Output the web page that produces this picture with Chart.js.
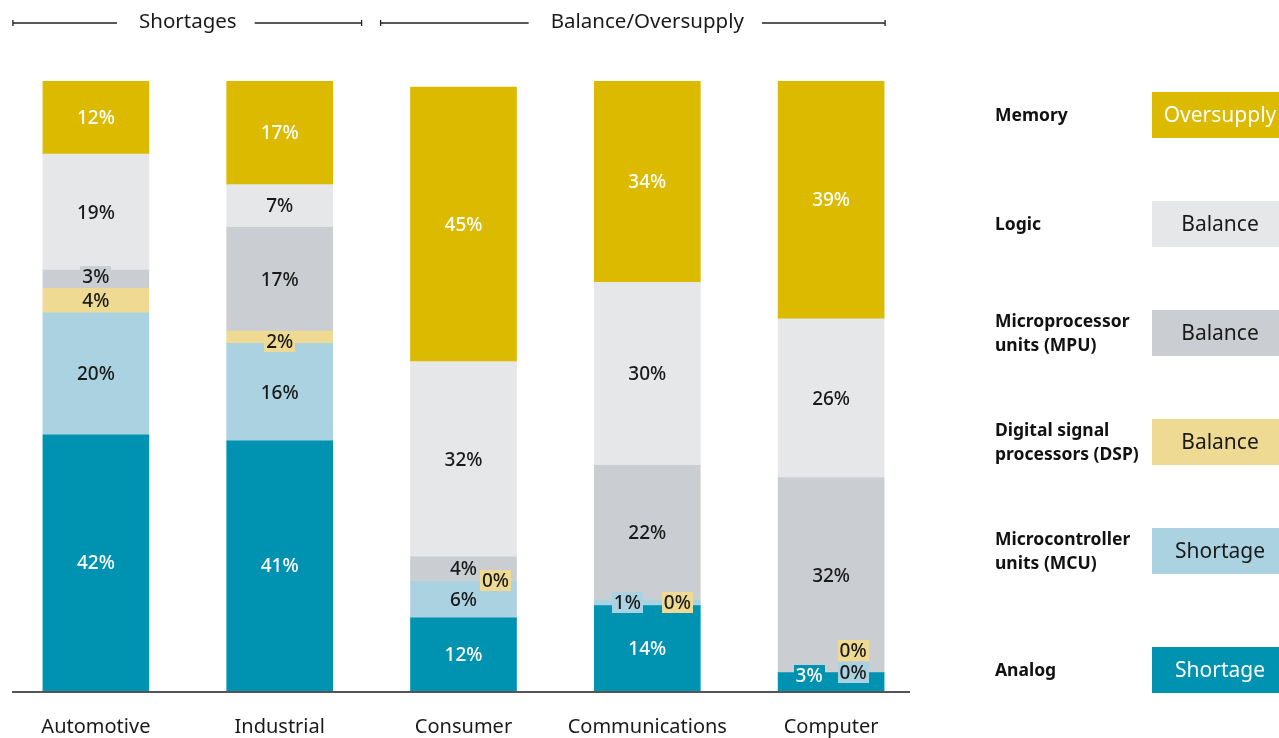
<!DOCTYPE html>
<html>
<head>
<meta charset="utf-8">
<title>Chip supply by end market</title>
<script src="https://cdn.jsdelivr.net/npm/chart.js@4.4.1/dist/chart.umd.min.js"></script>
<style>
  html, body { margin: 0; padding: 0; background: #fff; }
  #wrap { position: relative; width: 1279px; height: 738px; }
</style>
</head>
<body>
<div id="wrap"><canvas id="chipChart"></canvas></div>
<script>
const segments = ['Automotive', 'Industrial', 'Consumer', 'Communications', 'Computer'];

// share of each chip type in a segment's demand, %
const analog = [42, 41, 12, 14, 3];
const mcu    = [20, 16, 6, 1, 0];
const dsp    = [4, 2, 0, 0, 0];
const mpu    = [3, 17, 4, 22, 32];
const logic  = [19, 7, 32, 30, 26];
const memory = [12, 17, 45, 34, 39];

const chipTypes = [
  ['Analog'],
  ['Microcontroller', 'units (MCU)'],
  ['Digital signal', 'processors (DSP)'],
  ['Microprocessor', 'units (MPU)'],
  ['Logic'],
  ['Memory']
];
const supplyStatus = ['Shortage', 'Shortage', 'Balance', 'Balance', 'Balance', 'Oversupply'];

const groups = [
  { label: 'Shortages', from: 0, to: 1 },
  { label: 'Balance/Oversupply', from: 2, to: 4 }
];

const fills = ['#0093b1', '#abd2e1', '#efda93', '#cacdd2', '#e6e7e9', '#dbba00'];
const inks  = ['#ffffff', '#1a1a1a', '#1a1a1a', '#1a1a1a', '#1a1a1a', '#ffffff'];

// thin segments get a tagged label, nudged off the bar centre ("dataset:bar")
const tagged = {
  '3:0': { dx: 0, dy: -3 },
  '2:1': { dx: 0, dy: 4 },
  '2:2': { dx: 32, dy: -1 },
  '1:3': { dx: -20, dy: 0 },
  '2:3': { dx: 30, dy: 3 },
  '0:4': { dx: -22, dy: -6 },
  '1:4': { dx: 22, dy: 0 },
  '2:4': { dx: 22, dy: -22 }
};

const FONT = '"Noto Sans", "Open Sans", sans-serif';

const series = [analog, mcu, dsp, mpu, logic, memory];

const barLabels = {
  id: 'barLabels',
  afterDatasetsDraw(chart) {
    const ctx = chart.ctx;
    ctx.save();
    ctx.font = '500 19px ' + FONT;
    ctx.textAlign = 'center';
    ctx.textBaseline = 'middle';
    chart.data.datasets.forEach((ds, d) => {
      const meta = chart.getDatasetMeta(d);
      meta.data.forEach((bar, i) => {
        const txt = ds.data[i] + '%';
        const top = Math.max(bar.y, chart.chartArea.top);
        let x = bar.x;
        let y = (top + bar.base) / 2;
        const tag = tagged[d + ':' + i];
        if (tag) {
          x += tag.dx;
          y += tag.dy;
          const w = ctx.measureText(txt).width + 4;
          ctx.fillStyle = fills[d];
          ctx.fillRect(Math.round(x - w / 2), Math.round(y - 10.5), Math.round(w), 21);
        }
        ctx.fillStyle = inks[d];
        ctx.fillText(txt, x, y + 1);
      });
    });
    ctx.restore();
  }
};

const frame = {
  id: 'frame',
  afterDraw(chart) {
    const ctx = chart.ctx;
    const xs = chart.scales.x;
    const area = chart.chartArea;
    const px = i => xs.getPixelForValue(i);
    ctx.save();

    // baseline
    ctx.strokeStyle = '#555';
    ctx.lineWidth = 2;
    ctx.beginPath();
    ctx.moveTo(12, area.bottom + 1);
    ctx.lineTo(910, area.bottom + 1);
    ctx.stroke();

    // group brackets across the top, title centred over the group's bars
    ctx.font = '20.5px ' + FONT;
    ctx.textAlign = 'center';
    ctx.textBaseline = 'middle';
    ctx.strokeStyle = '#222';
    ctx.lineWidth = 1.3;
    const last = segments.length - 1;
    const y = 23;
    groups.forEach(g => {
      const left = g.from === 0 ? px(0) - 83 : (px(g.from - 1) + px(g.from)) / 2 + 9;
      const right = g.to === last ? px(last) + 54 : (px(g.to) + px(g.to + 1)) / 2 - 10;
      const mid = (px(g.from) + px(g.to)) / 2;
      const half = ctx.measureText(g.label).width / 2;
      ctx.beginPath();
      ctx.moveTo(left, y); ctx.lineTo(mid - half - 22, y);
      ctx.moveTo(mid + half + 18, y); ctx.lineTo(right, y);
      ctx.moveTo(left, y - 3); ctx.lineTo(left, y + 3);
      ctx.moveTo(right, y - 3); ctx.lineTo(right, y + 3);
      ctx.stroke();
      ctx.fillStyle = '#1a1a1a';
      ctx.fillText(g.label, mid, y - 1);
    });

    // key on the right, top row = top of the stack
    const rows = [670, 551, 442, 333, 224, 115];
    series.forEach((_, d) => {
      const cy = rows[d];
      const lines = chipTypes[d];
      ctx.textAlign = 'left';
      ctx.font = 'bold 17.5px ' + FONT;
      ctx.fillStyle = '#111';
      lines.forEach((ln, k) => {
        ctx.fillText(ln, 995, cy + 1 + (k - (lines.length - 1) / 2) * 24);
      });
      ctx.fillStyle = fills[d];
      ctx.fillRect(1152, cy - 23, 130, 46);
      ctx.font = '21px ' + FONT;
      ctx.fillStyle = inks[d];
      ctx.textAlign = 'center';
      ctx.fillText(supplyStatus[d], 1220, cy + 1.5);
    });
    ctx.restore();
  }
};

new Chart(document.getElementById('chipChart'), {
  type: 'bar',
  data: {
    labels: segments,
    datasets: series.map((vals, d) => ({
      label: chipTypes[d].join(' '),
      data: vals,
      backgroundColor: fills[d],
      borderWidth: 0,
      barThickness: 106,
      categoryPercentage: 1
    }))
  },
  options: {
    responsive: true,
    maintainAspectRatio: false,
    animation: false,
    layout: { padding: { top: 81, left: 4, right: 356, bottom: 0 } },
    plugins: { legend: { display: false }, tooltip: { enabled: false } },
    scales: {
      x: {
        stacked: true,
        grid: { display: false, drawTicks: false },
        border: { display: false },
        ticks: { padding: 24, color: '#1a1a1a', font: { size: 20, family: FONT } },
        afterFit(scale) { scale.height = 47; }
      },
      y: {
        stacked: true,
        display: false,
        min: 0,
        max: 100
      }
    }
  },
  plugins: [barLabels, frame]
});
</script>
</body>
</html>
